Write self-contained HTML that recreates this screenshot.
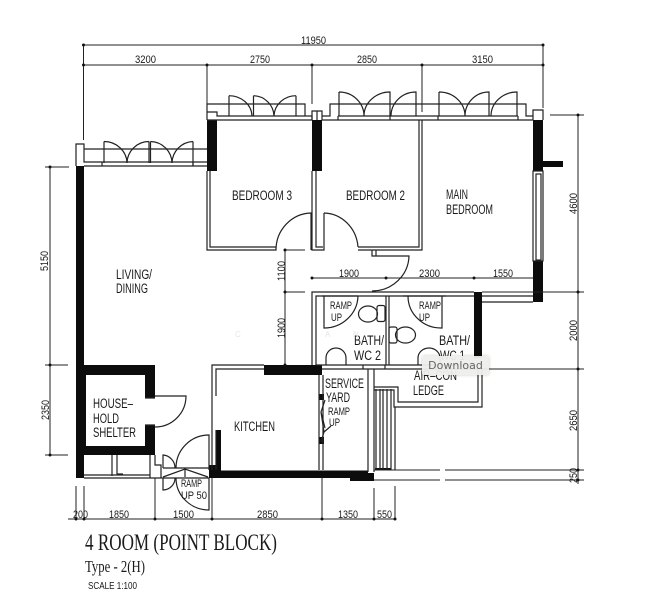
<!DOCTYPE html>
<html><head><meta charset="utf-8"><style>
html,body{margin:0;padding:0;background:#fff;width:652px;height:600px;overflow:hidden}
svg{position:absolute;left:0;top:0;filter:blur(.3px)}
text{font-family:"Liberation Sans",sans-serif;fill:#1a1a1a;font-size:13.5px}
.d text{font-size:11px}
.r{font-size:11px}
.l{fill:none;stroke:#222;stroke-width:1}
.w{fill:none;stroke:#222;stroke-width:1.2}
.t{fill:#111;stroke:none}
#tip{position:absolute;left:422px;top:356px;width:67px;height:19px;background:rgba(238,238,236,.95);border-radius:2px;box-shadow:0 0 3px rgba(0,0,0,.2);font:11px/19px "DejaVu Sans",sans-serif;color:#666;text-align:center}
</style></head><body>
<svg width="652" height="600" viewBox="0 0 652 600" xmlns="http://www.w3.org/2000/svg">
<!-- black walls -->
<g fill="#0c0c0c">
<rect x="76" y="166" width="8" height="312"/>
<rect x="207" y="120" width="10" height="51"/>
<rect x="312" y="120" width="10" height="51"/>
<rect x="533" y="120" width="10" height="51"/>
<rect x="543" y="161" width="20" height="6"/>
<rect x="533" y="261" width="10" height="41"/>
<rect x="474" y="292" width="8" height="66"/>
<path fill-rule="evenodd" d="M76 365H155V398H145V425H155V455H84V478H76ZM86 375V446H145V375Z"/>
<rect x="264" y="365" width="58" height="10"/>
<rect x="216" y="430" width="5" height="41"/>
<rect x="209" y="465" width="11" height="13"/>
<path d="M209 470.5H368V473H374V481H350V478H209Z"/>
<rect x="319" y="394" width="5" height="6"/>
<rect x="319" y="437" width="5" height="7"/>
<rect x="375" y="468" width="16" height="2"/>
</g>
<!-- dimensions -->
<g class="l">
<path d="M83.5 45H543M83.5 65H543M83.5 45V140M207 65V104M312 65V104M422 65V112M543 45V108"/>
<path d="M50 167V455M45 167H69M45 365H68M45 455H68"/>
<path d="M285 250V365M285 250H305M285 292H305"/>
<path d="M312 278H533"/>
<path d="M578 115V484M550 115H584M482 292H584M482 369H584M374 470H440M445 470H584M374 480H440M445 480H584"/>
<path d="M68 519H396M76 486V519M84 486V519M155 478V519M212 478V519M322 478V519M374 488V519M395 486V519"/>
</g>
<g class="t">
<circle cx="83.5" cy="45" r="1.5"/><circle cx="543" cy="45" r="1.5"/>
<circle cx="83.5" cy="65" r="1.5"/><circle cx="207" cy="65" r="1.5"/><circle cx="312" cy="65" r="1.5"/><circle cx="422" cy="65" r="1.5"/><circle cx="543" cy="65" r="1.5"/>
<circle cx="50" cy="167" r="1.5"/><circle cx="50" cy="365" r="1.5"/><circle cx="50" cy="455" r="1.5"/>
<circle cx="285" cy="250" r="1.5"/><circle cx="285" cy="292" r="1.5"/><circle cx="285" cy="365" r="1.5"/>
<circle cx="312" cy="278" r="1.5"/><circle cx="386" cy="278" r="1.5"/><circle cx="474" cy="278" r="1.5"/>
<circle cx="578" cy="115" r="1.5"/><circle cx="578" cy="292" r="1.5"/><circle cx="578" cy="369" r="1.5"/><circle cx="578" cy="470" r="1.5"/><circle cx="578" cy="480" r="1.5"/>
<circle cx="76" cy="519" r="1.5"/><circle cx="84" cy="519" r="1.5"/><circle cx="155" cy="519" r="1.5"/><circle cx="212" cy="519" r="1.5"/><circle cx="322" cy="519" r="1.5"/><circle cx="374" cy="519" r="1.5"/><circle cx="395" cy="519" r="1.5"/>
</g>
<g class="w">
<!-- living balcony -->
<path d="M76 166V144H84V149H207M84 149V162H102M102 162H193V166M84 166H207M193 162H207M104 163V141.5M149 163V141.5M150.5 163V141.5M193 163V141.5"/>
<path d="M104 141.5A23 22 0 0 1 127 163A22 22 0 0 1 149 141.5M150.5 141.5A22 22 0 0 1 172 163A22 22 0 0 1 193 141.5"/>
<path d="M102 162V166M193 162V166"/>
<!-- bedroom 3 balcony -->
<path d="M207 120V104H305V116M207 112H217V116H227M227 116H297M296 116H312V120H207M229 116V95.7M253.5 116V95.7M296 116V95.7"/>
<path d="M229 95.7A23 21 0 0 1 252 116M253.5 95.7A21 21 0 0 1 274 116A22 21 0 0 1 296 95.7"/>
<path d="M312 120V111H322V120M317 111V120M322 116H330V104H526V116H533M322 120H533M533 120V110H543V120"/>
<path d="M338 116V120M390 116V120M438 116V120M518 116V120M338 116H518"/>
<path d="M339 116V92M364 116A25 24 0 0 0 339 92M364 116A26 24 0 0 1 390 92V116M391 116A25 24 0 0 1 416 92V116"/>
<path d="M439 116V92M465 116A26 24 0 0 0 439 92M465 116A24 24 0 0 1 489 92V116M491 116A26 24 0 0 1 517 92V116"/>
<!-- bedroom walls -->
<path d="M207 171V250H276V247H210V171M276 250A36 37 0 0 1 311 213V250"/>
<path d="M312 171V250H324V213M316 171V247H323M324 213A35 37 0 0 1 358 247M358 247H419V120M358 250H422V120"/>
<path d="M372 250V256H376V250M376 256H409A37 36 0 0 1 372 291M372 291H376"/>
<rect x="533" y="171" width="10" height="90"/>
<rect x="536" y="174" width="5" height="86"/>
<!-- baths -->
<path d="M312 365V292H474M316 365V296H474M386 296V365M389 296V365M316 365H474M322 369H482M482 296H533M482 302H533"/>
<path d="M322 296H358M324 296V328A34 33 0 0 0 358 296"/>
<path d="M403 296H446M408 296A33 32 0 0 0 442 328V296"/>
<ellipse cx="368" cy="314" rx="9.5" ry="8"/>
<rect x="377" y="305.5" width="8" height="16" rx="2"/>
<ellipse cx="405.5" cy="335" rx="10" ry="8"/>
<rect x="389" y="327" width="8" height="16" rx="2"/>
<path d="M326 365V358A10 10 0 0 1 346 358V365"/>
<path d="M418 365V358A11 10 0 0 1 440 358V365"/>
<path d="M363 365V369M385 365V369"/>
<!-- service yard + ledge -->
<path d="M319 375V470M323 375V470M368 369V472M374 369V472M374 387H398V402H478V369M374 390H394V407H482V369"/>
<path d="M376 389V470M380 389V470M383 389V470M387 389V470M391 389V470M395 407V470"/>
<path d="M325 400L321 412L324 432L321 442M324 432L331 426M321 412L325 428"/>
<!-- kitchen -->
<path d="M264 365H212V396M264 369H216V396M212 396V470M216 430V470"/>
<!-- shelter door -->
<path d="M155 396H186A31 31 0 0 1 155 427M145 398H155M145 425H155"/>
<!-- lower strip -->
<path d="M84 475H150M84 478H209M112 455V476M117 455V474H123M150 455V478M155 455V465H161V478M163 468H209"/>
<path d="M163 477L185 469L208 477M185 469V477"/>
<path d="M209 470V435A33 33 0 0 0 176 468"/>
<path d="M176 478A33 32 0 0 0 209 510V478"/>
<path d="M163 468V455A13 13 0 0 1 175 468M163 478V490A12 12 0 0 0 175 478"/>
</g>
<!-- labels -->
<g class="d">
<text x="301" y="44" textLength="25" lengthAdjust="spacingAndGlyphs">11950</text>
<text x="135" y="63" textLength="21" lengthAdjust="spacingAndGlyphs">3200</text>
<text x="250" y="63" textLength="20" lengthAdjust="spacingAndGlyphs">2750</text>
<text x="357" y="63" textLength="20" lengthAdjust="spacingAndGlyphs">2850</text>
<text x="472" y="63" textLength="21" lengthAdjust="spacingAndGlyphs">3150</text>
<text x="339" y="277" textLength="20" lengthAdjust="spacingAndGlyphs">1900</text>
<text x="419" y="277" textLength="21" lengthAdjust="spacingAndGlyphs">2300</text>
<text x="493" y="277" textLength="20" lengthAdjust="spacingAndGlyphs">1550</text>
<text x="73" y="518" textLength="15" lengthAdjust="spacingAndGlyphs">200</text>
<text x="109" y="518" textLength="20" lengthAdjust="spacingAndGlyphs">1850</text>
<text x="173" y="518" textLength="21" lengthAdjust="spacingAndGlyphs">1500</text>
<text x="257" y="518" textLength="21" lengthAdjust="spacingAndGlyphs">2850</text>
<text x="338" y="518" textLength="20" lengthAdjust="spacingAndGlyphs">1350</text>
<text x="377" y="518" textLength="15" lengthAdjust="spacingAndGlyphs">550</text>
<text transform="translate(48 271) rotate(-90)" textLength="20" lengthAdjust="spacingAndGlyphs">5150</text>
<text transform="translate(49 420) rotate(-90)" textLength="20" lengthAdjust="spacingAndGlyphs">2350</text>
<text transform="translate(285 281) rotate(-90)" textLength="20" lengthAdjust="spacingAndGlyphs">1100</text>
<text transform="translate(285 338) rotate(-90)" textLength="20" lengthAdjust="spacingAndGlyphs">1900</text>
<text transform="translate(577 214) rotate(-90)" textLength="21" lengthAdjust="spacingAndGlyphs">4600</text>
<text transform="translate(577 341) rotate(-90)" textLength="21" lengthAdjust="spacingAndGlyphs">2000</text>
<text transform="translate(577 431) rotate(-90)" textLength="21" lengthAdjust="spacingAndGlyphs">2650</text>
<text transform="translate(577 483) rotate(-90)" textLength="15" lengthAdjust="spacingAndGlyphs">250</text>
</g>
<text x="232" y="200" textLength="60" lengthAdjust="spacingAndGlyphs">BEDROOM 3</text>
<text x="346" y="200" textLength="59" lengthAdjust="spacingAndGlyphs">BEDROOM 2</text>
<text x="446" y="199" textLength="22" lengthAdjust="spacingAndGlyphs">MAIN</text>
<text x="446" y="214" textLength="47" lengthAdjust="spacingAndGlyphs">BEDROOM</text>
<text x="116" y="279" textLength="36" lengthAdjust="spacingAndGlyphs">LIVING/</text>
<text x="116" y="293" textLength="32" lengthAdjust="spacingAndGlyphs">DINING</text>
<text x="93" y="408" textLength="40" lengthAdjust="spacingAndGlyphs">HOUSE–</text>
<text x="93" y="423" textLength="26" lengthAdjust="spacingAndGlyphs">HOLD</text>
<text x="93" y="437" textLength="43" lengthAdjust="spacingAndGlyphs">SHELTER</text>
<text x="234" y="431" textLength="41" lengthAdjust="spacingAndGlyphs">KITCHEN</text>
<text x="325" y="388" textLength="39" lengthAdjust="spacingAndGlyphs">SERVICE</text>
<text x="326" y="402" textLength="24" lengthAdjust="spacingAndGlyphs">YARD</text>
<text class="r" x="328" y="415" textLength="22" lengthAdjust="spacingAndGlyphs">RAMP</text>
<text class="r" x="329" y="426" textLength="11" lengthAdjust="spacingAndGlyphs">UP</text>
<text class="r" x="330" y="309" textLength="22" lengthAdjust="spacingAndGlyphs">RAMP</text>
<text class="r" x="331" y="321" textLength="11" lengthAdjust="spacingAndGlyphs">UP</text>
<text class="r" x="419" y="309" textLength="22" lengthAdjust="spacingAndGlyphs">RAMP</text>
<text class="r" x="419" y="321" textLength="11" lengthAdjust="spacingAndGlyphs">UP</text>
<text x="354" y="345" textLength="30" lengthAdjust="spacingAndGlyphs">BATH/</text>
<text x="354" y="360" textLength="27" lengthAdjust="spacingAndGlyphs">WC 2</text>
<text x="439" y="345" textLength="31" lengthAdjust="spacingAndGlyphs">BATH/</text>
<text x="440" y="360" textLength="25" lengthAdjust="spacingAndGlyphs">WC 1</text>
<text x="414" y="380" textLength="43" lengthAdjust="spacingAndGlyphs">AIR–CON</text>
<text x="413" y="395" textLength="31" lengthAdjust="spacingAndGlyphs">LEDGE</text>
<text class="r" x="181" y="487" textLength="21" lengthAdjust="spacingAndGlyphs">RAMP</text>
<text class="r" x="181" y="499" textLength="26" lengthAdjust="spacingAndGlyphs">UP 50</text>
<text x="235" y="337" style="font-size:8px;fill:#e6e6e6">C</text>
<text x="325" y="337" style="font-size:8px;fill:#e6e6e6">A</text>
<text x="353" y="337" style="font-size:8px;fill:#e6e6e6">N</text>
<text x="85" y="550" style='font-family:"Liberation Serif",serif;font-size:23px' textLength="192" lengthAdjust="spacingAndGlyphs">4 ROOM (POINT BLOCK)</text>
<text x="85" y="572" style='font-family:"Liberation Serif",serif;font-size:17px' textLength="60" lengthAdjust="spacingAndGlyphs">Type - 2(H)</text>
<text x="88" y="589" style="font-size:10px" textLength="49" lengthAdjust="spacingAndGlyphs">SCALE 1:100</text>
</svg>
<div id="tip">Download</div>
</body></html>
